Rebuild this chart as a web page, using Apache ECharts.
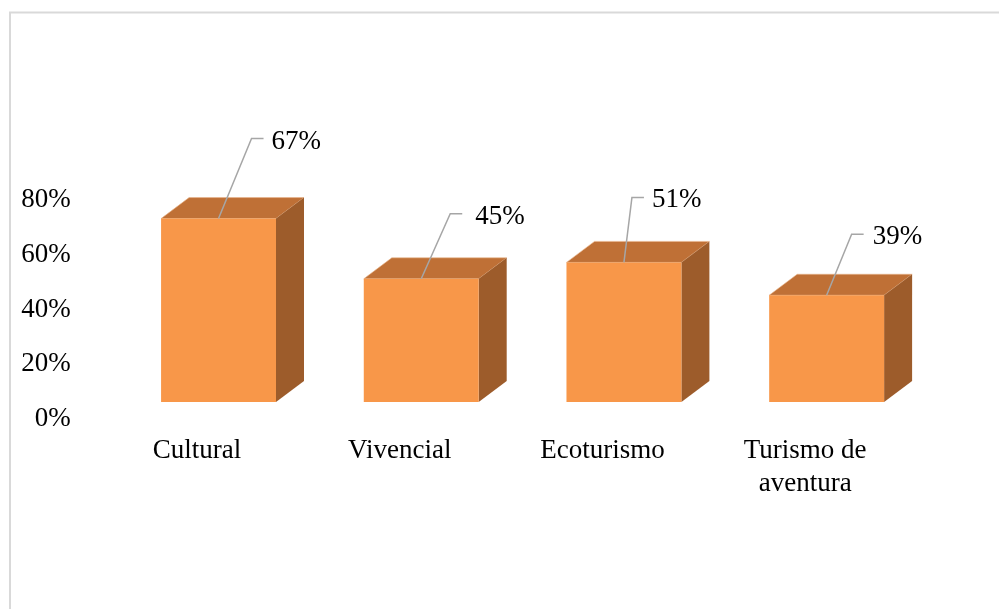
<!DOCTYPE html>
<html>
<head>
<meta charset="utf-8">
<script src="https://cdn.jsdelivr.net/npm/echarts@6/dist/echarts.min.js"></script>
<style>
html,body{margin:0;padding:0;background:#fff;}
#chart{width:999px;height:609px;}
</style>
</head>
<body>
<div id="chart"></div>
<script>
// Data
const categories = ['Cultural', 'Vivencial', 'Ecoturismo', 'Turismo de\naventura'];
const values = [67, 45, 51, 39];
const yTickValues = [0, 20, 40, 60, 80];

// Label leader nudges (style, not data): [dx, dy, gap to text]
const leaderNudge = [[33, -80, 8], [29, -65, 13], [8, -65, 8], [25, -61, 9]];

const FONT = "'Liberation Serif', 'Times New Roman', serif";
const FS = 27;
const chart = echarts.init(document.getElementById('chart'), null, {renderer: 'canvas'});

function renderItem(params, api) {
  const i = params.dataIndex;
  const base = api.coord([api.value(0), 0]);
  const top = api.coord([api.value(0), api.value(1)]);
  const band = api.size([1, 0])[0];
  const floor = 17;
  const w = band * 0.567;
  const cxBar = base[0] + band * 0.106;
  const x0 = cxBar - w / 2;
  const yb = base[1] - floor;
  const yt = top[1] - floor;
  const dx = 28, dy = 21;
  const n = leaderNudge[i];
  const lx = cxBar + n[0], ly = yt + n[1];
  return {
    type: 'group',
    children: [
      {type: 'polygon', shape: {points: [[x0, yt], [x0 + w, yt], [x0 + w + dx, yt - dy], [x0 + dx, yt - dy]]},
        style: {fill: '#BF7036', stroke: '#E9B58C', lineWidth: 0.6}},
      {type: 'polygon', shape: {points: [[x0 + w, yt], [x0 + w + dx, yt - dy], [x0 + w + dx, yb - dy], [x0 + w, yb]]},
        style: {fill: '#9D5C2B'}},
      {type: 'rect', shape: {x: x0, y: yt, width: w, height: yb - yt},
        style: {fill: '#F89749'}},
      {type: 'polyline', shape: {points: [[cxBar, yt], [lx, ly], [lx + 12, ly]]},
        style: {stroke: '#A6A6A6', lineWidth: 1.5, fill: null}},
      {type: 'text', x: lx + 12 + n[2], y: ly + 3,
        style: {text: api.value(1) + '%', font: FS + 'px ' + FONT, fill: '#000', textAlign: 'left', textVerticalAlign: 'middle'}}
    ]
  };
}

chart.setOption({
  animation: false,
  backgroundColor: '#fff',
  graphic: [{
    type: 'rect', shape: {x: 10, y: 12.5, width: 1100, height: 700},
    style: {fill: 'none', stroke: '#D9D9D9', lineWidth: 2}, silent: true
  }],
  grid: {left: 95.7, right: 92.5, top: 200, bottom: 190},
  xAxis: {
    type: 'category',
    data: categories,
    axisLine: {show: false},
    axisTick: {show: false},
    axisLabel: {fontFamily: FONT, fontSize: FS, color: '#000', margin: 15, lineHeight: 33, interval: 0}
  },
  yAxis: {
    type: 'value',
    min: yTickValues[0],
    max: yTickValues[yTickValues.length - 1],
    interval: 20,
    splitLine: {show: false},
    axisLine: {show: false},
    axisTick: {show: false},
    axisLabel: {fontFamily: FONT, fontSize: FS, color: '#000', margin: 25, formatter: '{value}%'}
  },
  series: [{
    type: 'custom',
    renderItem: renderItem,
    clip: false,
    data: values.map((v, i) => [i, v])
  }]
});
</script>
</body>
</html>
